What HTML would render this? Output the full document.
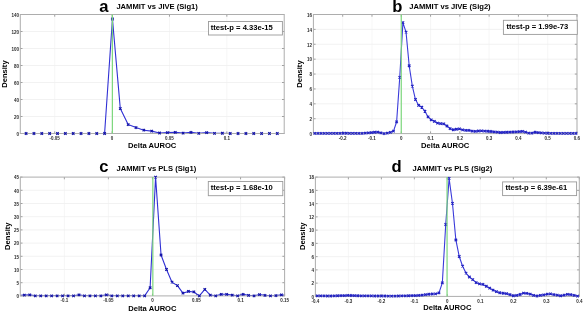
<!DOCTYPE html>
<html><head><meta charset="utf-8"><style>
html,body{margin:0;padding:0;background:#fff;}
body{width:584px;height:314px;overflow:hidden;}
svg{display:block;will-change:transform;}
text{font-family:"Liberation Sans", sans-serif;}
.tk{font-size:4.5px;fill:#2a2a2a;font-weight:bold;}
.lab{font-size:7.6px;font-weight:bold;fill:#000;}
.big{font-size:16.6px;font-weight:bold;fill:#000;}
</style></head><body>
<svg width="584" height="314" viewBox="0 0 584 314">
<rect width="584" height="314" fill="#fff"/>
<path d="M54.72 14.5V133.5M112.09 14.5V133.5M169.46 14.5V133.5M226.83 14.5V133.5" stroke="#f4f4f4" stroke-width="0.8" fill="none"/>
<path d="M20.3 116.5H284.2M20.3 99.5H284.2M20.3 82.5H284.2M20.3 65.5H284.2M20.3 48.5H284.2M20.3 31.5H284.2" stroke="#efefef" stroke-width="0.8" fill="none"/>
<path d="M54.72 133.5v-2.2M54.72 14.5v2.2M112.09 133.5v-2.2M112.09 14.5v2.2M169.46 133.5v-2.2M169.46 14.5v2.2M226.83 133.5v-2.2M226.83 14.5v2.2M20.3 133.5h2.2M284.2 133.5h-2.2M20.3 116.5h2.2M284.2 116.5h-2.2M20.3 99.5h2.2M284.2 99.5h-2.2M20.3 82.5h2.2M284.2 82.5h-2.2M20.3 65.5h2.2M284.2 65.5h-2.2M20.3 48.5h2.2M284.2 48.5h-2.2M20.3 31.5h2.2M284.2 31.5h-2.2M20.3 14.5h2.2M284.2 14.5h-2.2" stroke="#8a8a8a" stroke-width="0.8" fill="none"/>
<text x="54.72" y="139.9" text-anchor="middle" class="tk">-0.05</text>
<text x="112.09" y="139.9" text-anchor="middle" class="tk">0</text>
<text x="169.46" y="139.9" text-anchor="middle" class="tk">0.05</text>
<text x="226.83" y="139.9" text-anchor="middle" class="tk">0.1</text>
<text x="19" y="135.8" text-anchor="end" class="tk">0</text>
<text x="19" y="118.8" text-anchor="end" class="tk">20</text>
<text x="19" y="101.8" text-anchor="end" class="tk">40</text>
<text x="19" y="84.8" text-anchor="end" class="tk">60</text>
<text x="19" y="67.8" text-anchor="end" class="tk">80</text>
<text x="19" y="50.8" text-anchor="end" class="tk">100</text>
<text x="19" y="33.8" text-anchor="end" class="tk">120</text>
<text x="19" y="16.8" text-anchor="end" class="tk">140</text>
<clipPath id="ca"><rect x="20.3" y="11.5" width="263.9" height="122"/></clipPath>
<path d="M18.25 133.5 L26.1 133.5 L33.95 133.5 L41.8 133.5 L49.65 133.5 L57.5 133.5 L65.35 133.5 L73.2 133.5 L81.05 133.5 L88.9 133.5 L96.75 133.5 L104.6 133.5 L112.45 19.01 L120.3 108.59 L128.15 124.58 L136 127.55 L143.85 130.19 L151.7 131.12 L159.55 132.99 L167.4 132.65 L175.25 132.4 L183.1 133.16 L190.95 132.4 L198.8 133.41 L206.65 132.65 L214.5 133.41 L222.35 133.25 L230.2 133.5 L238.05 133.5 L245.9 133.5 L253.75 133.5 L261.6 133.5 L269.45 133.5 L277.3 133.5 L285.15 133.5" stroke="#3030d4" stroke-width="1.1" fill="none" stroke-linejoin="round" clip-path="url(#ca)"/>
<rect x="20.3" y="14.5" width="263.9" height="119" fill="none" stroke="#adadad" stroke-width="1"/>
<path d="M24.85 132.25l2.5 2.5M24.85 134.75l2.5 -2.5M32.7 132.25l2.5 2.5M32.7 134.75l2.5 -2.5M40.55 132.25l2.5 2.5M40.55 134.75l2.5 -2.5M48.4 132.25l2.5 2.5M48.4 134.75l2.5 -2.5M56.25 132.25l2.5 2.5M56.25 134.75l2.5 -2.5M64.1 132.25l2.5 2.5M64.1 134.75l2.5 -2.5M71.95 132.25l2.5 2.5M71.95 134.75l2.5 -2.5M79.8 132.25l2.5 2.5M79.8 134.75l2.5 -2.5M87.65 132.25l2.5 2.5M87.65 134.75l2.5 -2.5M95.5 132.25l2.5 2.5M95.5 134.75l2.5 -2.5M103.35 132.25l2.5 2.5M103.35 134.75l2.5 -2.5M111.2 17.76l2.5 2.5M111.2 20.26l2.5 -2.5M119.05 107.34l2.5 2.5M119.05 109.84l2.5 -2.5M126.9 123.33l2.5 2.5M126.9 125.83l2.5 -2.5M134.75 126.3l2.5 2.5M134.75 128.8l2.5 -2.5M142.6 128.94l2.5 2.5M142.6 131.44l2.5 -2.5M150.45 129.87l2.5 2.5M150.45 132.37l2.5 -2.5M158.3 131.74l2.5 2.5M158.3 134.24l2.5 -2.5M166.15 131.4l2.5 2.5M166.15 133.9l2.5 -2.5M174 131.15l2.5 2.5M174 133.65l2.5 -2.5M181.85 131.91l2.5 2.5M181.85 134.41l2.5 -2.5M189.7 131.15l2.5 2.5M189.7 133.65l2.5 -2.5M197.55 132.16l2.5 2.5M197.55 134.66l2.5 -2.5M205.4 131.4l2.5 2.5M205.4 133.9l2.5 -2.5M213.25 132.16l2.5 2.5M213.25 134.66l2.5 -2.5M221.1 132l2.5 2.5M221.1 134.5l2.5 -2.5M228.95 132.25l2.5 2.5M228.95 134.75l2.5 -2.5M236.8 132.25l2.5 2.5M236.8 134.75l2.5 -2.5M244.65 132.25l2.5 2.5M244.65 134.75l2.5 -2.5M252.5 132.25l2.5 2.5M252.5 134.75l2.5 -2.5M260.35 132.25l2.5 2.5M260.35 134.75l2.5 -2.5M268.2 132.25l2.5 2.5M268.2 134.75l2.5 -2.5M276.05 132.25l2.5 2.5M276.05 134.75l2.5 -2.5" stroke="#1212a6" stroke-width="1.15" fill="none"/>
<path d="M112.39 14.5V133.5" stroke="#7ed87e" stroke-width="1.2"/>
<text x="99.3" y="12.1" class="big">a</text>
<text x="116.4" y="9.2" class="lab">JAMMIT vs JIVE (Sig1)</text>
<rect x="208.5" y="21.5" width="73.9" height="13.5" fill="#fff" stroke="#9a9a9a" stroke-width="0.9"/>
<text x="210.8" y="30.1" class="lab">ttest-p = 4.33e-15</text>
<text transform="translate(6.7 74.1) rotate(-90)" text-anchor="middle" class="lab">Density</text>
<text x="152.2" y="147.9" text-anchor="middle" class="lab">Delta AUROC</text>
<path d="M342.69 14.5V133.6M371.98 14.5V133.6M401.27 14.5V133.6M430.56 14.5V133.6M459.84 14.5V133.6M489.13 14.5V133.6M518.42 14.5V133.6M547.71 14.5V133.6M577 14.5V133.6" stroke="#f4f4f4" stroke-width="0.8" fill="none"/>
<path d="M313.4 118.71H577M313.4 103.82H577M313.4 88.94H577M313.4 74.05H577M313.4 59.16H577M313.4 44.28H577M313.4 29.39H577" stroke="#efefef" stroke-width="0.8" fill="none"/>
<path d="M342.69 133.6v-2.2M342.69 14.5v2.2M371.98 133.6v-2.2M371.98 14.5v2.2M401.27 133.6v-2.2M401.27 14.5v2.2M430.56 133.6v-2.2M430.56 14.5v2.2M459.84 133.6v-2.2M459.84 14.5v2.2M489.13 133.6v-2.2M489.13 14.5v2.2M518.42 133.6v-2.2M518.42 14.5v2.2M547.71 133.6v-2.2M547.71 14.5v2.2M577 133.6v-2.2M577 14.5v2.2M313.4 133.6h2.2M577 133.6h-2.2M313.4 118.71h2.2M577 118.71h-2.2M313.4 103.82h2.2M577 103.82h-2.2M313.4 88.94h2.2M577 88.94h-2.2M313.4 74.05h2.2M577 74.05h-2.2M313.4 59.16h2.2M577 59.16h-2.2M313.4 44.28h2.2M577 44.28h-2.2M313.4 29.39h2.2M577 29.39h-2.2M313.4 14.5h2.2M577 14.5h-2.2" stroke="#8a8a8a" stroke-width="0.8" fill="none"/>
<text x="342.69" y="140" text-anchor="middle" class="tk">-0.2</text>
<text x="371.98" y="140" text-anchor="middle" class="tk">-0.1</text>
<text x="401.27" y="140" text-anchor="middle" class="tk">0</text>
<text x="430.56" y="140" text-anchor="middle" class="tk">0.1</text>
<text x="459.84" y="140" text-anchor="middle" class="tk">0.2</text>
<text x="489.13" y="140" text-anchor="middle" class="tk">0.3</text>
<text x="518.42" y="140" text-anchor="middle" class="tk">0.4</text>
<text x="547.71" y="140" text-anchor="middle" class="tk">0.5</text>
<text x="577" y="140" text-anchor="middle" class="tk">0.6</text>
<text x="312.1" y="135.9" text-anchor="end" class="tk">0</text>
<text x="312.1" y="121.01" text-anchor="end" class="tk">2</text>
<text x="312.1" y="106.12" text-anchor="end" class="tk">4</text>
<text x="312.1" y="91.24" text-anchor="end" class="tk">6</text>
<text x="312.1" y="76.35" text-anchor="end" class="tk">8</text>
<text x="312.1" y="61.46" text-anchor="end" class="tk">10</text>
<text x="312.1" y="46.58" text-anchor="end" class="tk">12</text>
<text x="312.1" y="31.69" text-anchor="end" class="tk">14</text>
<text x="312.1" y="16.8" text-anchor="end" class="tk">16</text>
<clipPath id="cb"><rect x="313.4" y="11.5" width="263.6" height="122.1"/></clipPath>
<path d="M311.67 133.23 L314.81 133.45 L317.96 133.45 L321.1 133.45 L324.25 133.45 L327.4 133.45 L330.54 133.44 L333.69 133.4 L336.83 133.35 L339.98 133.3 L343.13 133.26 L346.27 133.25 L349.42 133.29 L352.56 133.34 L355.71 133.39 L358.86 133.43 L362 133.3 L365.15 133.07 L368.29 132.83 L371.44 132.55 L374.59 132.22 L377.73 132.13 L380.88 132.87 L384.02 133.6 L387.17 133.09 L390.32 132.45 L393.46 131.11 L396.61 121.96 L399.75 77.33 L402.9 22.69 L406.05 32.2 L409.19 65.78 L412.34 86.12 L415.48 99.51 L418.63 105.3 L421.78 107.26 L424.92 111.28 L428.07 116.94 L431.21 119.79 L434.36 121.29 L437.51 123.06 L440.65 123.54 L443.8 123.88 L446.94 126.01 L450.09 128.65 L453.24 129.74 L456.38 129.28 L459.53 128.91 L462.67 129.83 L465.82 130.3 L468.97 130.35 L472.11 131.06 L475.26 131.35 L478.4 130.98 L481.55 130.87 L484.7 131.05 L487.84 131.24 L490.99 131.48 L494.13 131.83 L497.28 132.18 L500.43 132.47 L503.57 132.35 L506.72 132.23 L509.86 132.12 L513.01 131.97 L516.16 131.82 L519.3 131.64 L522.45 131.41 L525.59 132.19 L528.74 133.2 L531.89 133.09 L535.03 132.26 L538.18 132.57 L541.32 132.87 L544.47 133.18 L547.62 133.27 L550.76 133.31 L553.91 133.36 L557.05 133.41 L560.2 133.45 L563.35 133.45 L566.49 133.45 L569.64 133.45 L572.78 133.45 L575.93 133.45 L579.08 133.6" stroke="#3a3ada" stroke-width="1.1" fill="none" stroke-linejoin="round" clip-path="url(#cb)"/>
<rect x="313.4" y="14.5" width="263.6" height="119.1" fill="none" stroke="#adadad" stroke-width="1"/>
<path d="M313.56 132.2l2.5 2.5M313.56 134.7l2.5 -2.5M316.71 132.2l2.5 2.5M316.71 134.7l2.5 -2.5M319.85 132.2l2.5 2.5M319.85 134.7l2.5 -2.5M323 132.2l2.5 2.5M323 134.7l2.5 -2.5M326.15 132.2l2.5 2.5M326.15 134.7l2.5 -2.5M329.29 132.19l2.5 2.5M329.29 134.69l2.5 -2.5M332.44 132.15l2.5 2.5M332.44 134.65l2.5 -2.5M335.58 132.1l2.5 2.5M335.58 134.6l2.5 -2.5M338.73 132.05l2.5 2.5M338.73 134.55l2.5 -2.5M341.88 132.01l2.5 2.5M341.88 134.51l2.5 -2.5M345.02 132l2.5 2.5M345.02 134.5l2.5 -2.5M348.17 132.04l2.5 2.5M348.17 134.54l2.5 -2.5M351.31 132.09l2.5 2.5M351.31 134.59l2.5 -2.5M354.46 132.14l2.5 2.5M354.46 134.64l2.5 -2.5M357.61 132.18l2.5 2.5M357.61 134.68l2.5 -2.5M360.75 132.05l2.5 2.5M360.75 134.55l2.5 -2.5M363.9 131.82l2.5 2.5M363.9 134.32l2.5 -2.5M367.04 131.58l2.5 2.5M367.04 134.08l2.5 -2.5M370.19 131.3l2.5 2.5M370.19 133.8l2.5 -2.5M373.34 130.97l2.5 2.5M373.34 133.47l2.5 -2.5M376.48 130.88l2.5 2.5M376.48 133.38l2.5 -2.5M379.63 131.62l2.5 2.5M379.63 134.12l2.5 -2.5M382.77 132.35l2.5 2.5M382.77 134.85l2.5 -2.5M385.92 131.84l2.5 2.5M385.92 134.34l2.5 -2.5M389.07 131.2l2.5 2.5M389.07 133.7l2.5 -2.5M392.21 129.86l2.5 2.5M392.21 132.36l2.5 -2.5M395.36 120.71l2.5 2.5M395.36 123.21l2.5 -2.5M398.5 76.08l2.5 2.5M398.5 78.58l2.5 -2.5M401.65 21.44l2.5 2.5M401.65 23.94l2.5 -2.5M404.8 30.95l2.5 2.5M404.8 33.45l2.5 -2.5M407.94 64.53l2.5 2.5M407.94 67.03l2.5 -2.5M411.09 84.87l2.5 2.5M411.09 87.37l2.5 -2.5M414.23 98.26l2.5 2.5M414.23 100.76l2.5 -2.5M417.38 104.05l2.5 2.5M417.38 106.55l2.5 -2.5M420.53 106.01l2.5 2.5M420.53 108.51l2.5 -2.5M423.67 110.03l2.5 2.5M423.67 112.53l2.5 -2.5M426.82 115.69l2.5 2.5M426.82 118.19l2.5 -2.5M429.96 118.54l2.5 2.5M429.96 121.04l2.5 -2.5M433.11 120.04l2.5 2.5M433.11 122.54l2.5 -2.5M436.26 121.81l2.5 2.5M436.26 124.31l2.5 -2.5M439.4 122.29l2.5 2.5M439.4 124.79l2.5 -2.5M442.55 122.63l2.5 2.5M442.55 125.13l2.5 -2.5M445.69 124.76l2.5 2.5M445.69 127.26l2.5 -2.5M448.84 127.4l2.5 2.5M448.84 129.9l2.5 -2.5M451.99 128.49l2.5 2.5M451.99 130.99l2.5 -2.5M455.13 128.03l2.5 2.5M455.13 130.53l2.5 -2.5M458.28 127.66l2.5 2.5M458.28 130.16l2.5 -2.5M461.42 128.58l2.5 2.5M461.42 131.08l2.5 -2.5M464.57 129.05l2.5 2.5M464.57 131.55l2.5 -2.5M467.72 129.1l2.5 2.5M467.72 131.6l2.5 -2.5M470.86 129.81l2.5 2.5M470.86 132.31l2.5 -2.5M474.01 130.1l2.5 2.5M474.01 132.6l2.5 -2.5M477.15 129.73l2.5 2.5M477.15 132.23l2.5 -2.5M480.3 129.62l2.5 2.5M480.3 132.12l2.5 -2.5M483.45 129.8l2.5 2.5M483.45 132.3l2.5 -2.5M486.59 129.99l2.5 2.5M486.59 132.49l2.5 -2.5M489.74 130.23l2.5 2.5M489.74 132.73l2.5 -2.5M492.88 130.58l2.5 2.5M492.88 133.08l2.5 -2.5M496.03 130.93l2.5 2.5M496.03 133.43l2.5 -2.5M499.18 131.22l2.5 2.5M499.18 133.72l2.5 -2.5M502.32 131.1l2.5 2.5M502.32 133.6l2.5 -2.5M505.47 130.98l2.5 2.5M505.47 133.48l2.5 -2.5M508.61 130.87l2.5 2.5M508.61 133.37l2.5 -2.5M511.76 130.72l2.5 2.5M511.76 133.22l2.5 -2.5M514.91 130.57l2.5 2.5M514.91 133.07l2.5 -2.5M518.05 130.39l2.5 2.5M518.05 132.89l2.5 -2.5M521.2 130.16l2.5 2.5M521.2 132.66l2.5 -2.5M524.34 130.94l2.5 2.5M524.34 133.44l2.5 -2.5M527.49 131.95l2.5 2.5M527.49 134.45l2.5 -2.5M530.64 131.84l2.5 2.5M530.64 134.34l2.5 -2.5M533.78 131.01l2.5 2.5M533.78 133.51l2.5 -2.5M536.93 131.32l2.5 2.5M536.93 133.82l2.5 -2.5M540.07 131.62l2.5 2.5M540.07 134.12l2.5 -2.5M543.22 131.93l2.5 2.5M543.22 134.43l2.5 -2.5M546.37 132.02l2.5 2.5M546.37 134.52l2.5 -2.5M549.51 132.06l2.5 2.5M549.51 134.56l2.5 -2.5M552.66 132.11l2.5 2.5M552.66 134.61l2.5 -2.5M555.8 132.16l2.5 2.5M555.8 134.66l2.5 -2.5M558.95 132.2l2.5 2.5M558.95 134.7l2.5 -2.5M562.1 132.2l2.5 2.5M562.1 134.7l2.5 -2.5M565.24 132.2l2.5 2.5M565.24 134.7l2.5 -2.5M568.39 132.2l2.5 2.5M568.39 134.7l2.5 -2.5M571.53 132.2l2.5 2.5M571.53 134.7l2.5 -2.5M574.68 132.2l2.5 2.5M574.68 134.7l2.5 -2.5" stroke="#2020c0" stroke-width="1.15" fill="none"/>
<path d="M401.27 14.5V133.6" stroke="#7ed87e" stroke-width="1.2"/>
<text x="392.2" y="12.2" class="big">b</text>
<text x="409.2" y="9" class="lab">JAMMIT vs JIVE (Sig2)</text>
<rect x="503.4" y="20.3" width="73.9" height="14.1" fill="#fff" stroke="#9a9a9a" stroke-width="0.9"/>
<text x="506.4" y="28.9" class="lab">ttest-p = 1.99e-73</text>
<text transform="translate(302.3 74.1) rotate(-90)" text-anchor="middle" class="lab">Density</text>
<text x="445.2" y="147.9" text-anchor="middle" class="lab">Delta AUROC</text>
<path d="M64.35 177.1V295.9M108.4 177.1V295.9M152.45 177.1V295.9M196.5 177.1V295.9M240.55 177.1V295.9M284.6 177.1V295.9" stroke="#f4f4f4" stroke-width="0.8" fill="none"/>
<path d="M20.3 282.7H284.6M20.3 269.5H284.6M20.3 256.3H284.6M20.3 243.1H284.6M20.3 229.9H284.6M20.3 216.7H284.6M20.3 203.5H284.6M20.3 190.3H284.6" stroke="#efefef" stroke-width="0.8" fill="none"/>
<path d="M64.35 295.9v-2.2M64.35 177.1v2.2M108.4 295.9v-2.2M108.4 177.1v2.2M152.45 295.9v-2.2M152.45 177.1v2.2M196.5 295.9v-2.2M196.5 177.1v2.2M240.55 295.9v-2.2M240.55 177.1v2.2M284.6 295.9v-2.2M284.6 177.1v2.2M20.3 295.9h2.2M284.6 295.9h-2.2M20.3 282.7h2.2M284.6 282.7h-2.2M20.3 269.5h2.2M284.6 269.5h-2.2M20.3 256.3h2.2M284.6 256.3h-2.2M20.3 243.1h2.2M284.6 243.1h-2.2M20.3 229.9h2.2M284.6 229.9h-2.2M20.3 216.7h2.2M284.6 216.7h-2.2M20.3 203.5h2.2M284.6 203.5h-2.2M20.3 190.3h2.2M284.6 190.3h-2.2M20.3 177.1h2.2M284.6 177.1h-2.2" stroke="#8a8a8a" stroke-width="0.8" fill="none"/>
<text x="64.35" y="302.3" text-anchor="middle" class="tk">-0.1</text>
<text x="108.4" y="302.3" text-anchor="middle" class="tk">-0.05</text>
<text x="152.45" y="302.3" text-anchor="middle" class="tk">0</text>
<text x="196.5" y="302.3" text-anchor="middle" class="tk">0.05</text>
<text x="240.55" y="302.3" text-anchor="middle" class="tk">0.1</text>
<text x="284.6" y="302.3" text-anchor="middle" class="tk">0.15</text>
<text x="19" y="298.2" text-anchor="end" class="tk">0</text>
<text x="19" y="285" text-anchor="end" class="tk">5</text>
<text x="19" y="271.8" text-anchor="end" class="tk">10</text>
<text x="19" y="258.6" text-anchor="end" class="tk">15</text>
<text x="19" y="245.4" text-anchor="end" class="tk">20</text>
<text x="19" y="232.2" text-anchor="end" class="tk">25</text>
<text x="19" y="219" text-anchor="end" class="tk">30</text>
<text x="19" y="205.8" text-anchor="end" class="tk">35</text>
<text x="19" y="192.6" text-anchor="end" class="tk">40</text>
<text x="19" y="179.4" text-anchor="end" class="tk">45</text>
<clipPath id="cc"><rect x="20.3" y="174.1" width="264.3" height="121.8"/></clipPath>
<path d="M18.83 295.37 L24.3 295.11 L29.77 294.84 L35.24 295.9 L40.71 295.9 L46.18 295.9 L51.65 295.9 L57.12 295.9 L62.59 295.9 L68.06 295.9 L73.53 295.9 L79 294.84 L84.47 295.9 L89.94 295.9 L95.41 295.9 L100.88 295.9 L106.35 294.84 L111.82 295.9 L117.29 295.9 L122.76 295.9 L128.23 295.9 L133.7 295.9 L139.17 295.9 L144.64 295.9 L150.11 287.72 L155.58 177.1 L161.05 254.98 L166.52 269.5 L171.99 282.17 L177.46 285.6 L182.93 293.13 L188.4 291.41 L193.87 291.94 L199.34 295.9 L204.81 289.3 L210.28 295.11 L215.75 295.9 L221.22 294.32 L226.69 294.32 L232.16 295.11 L237.63 295.9 L243.1 294.32 L248.57 295.37 L254.04 295.9 L259.51 294.58 L264.98 295.37 L270.45 295.9 L275.92 295.64 L281.39 294.84 L286.86 295.37" stroke="#3030d4" stroke-width="1.1" fill="none" stroke-linejoin="round" clip-path="url(#cc)"/>
<rect x="20.3" y="177.1" width="264.3" height="118.8" fill="none" stroke="#adadad" stroke-width="1"/>
<path d="M23.05 293.86l2.5 2.5M23.05 296.36l2.5 -2.5M28.52 293.59l2.5 2.5M28.52 296.09l2.5 -2.5M33.99 294.65l2.5 2.5M33.99 297.15l2.5 -2.5M39.46 294.65l2.5 2.5M39.46 297.15l2.5 -2.5M44.93 294.65l2.5 2.5M44.93 297.15l2.5 -2.5M50.4 294.65l2.5 2.5M50.4 297.15l2.5 -2.5M55.87 294.65l2.5 2.5M55.87 297.15l2.5 -2.5M61.34 294.65l2.5 2.5M61.34 297.15l2.5 -2.5M66.81 294.65l2.5 2.5M66.81 297.15l2.5 -2.5M72.28 294.65l2.5 2.5M72.28 297.15l2.5 -2.5M77.75 293.59l2.5 2.5M77.75 296.09l2.5 -2.5M83.22 294.65l2.5 2.5M83.22 297.15l2.5 -2.5M88.69 294.65l2.5 2.5M88.69 297.15l2.5 -2.5M94.16 294.65l2.5 2.5M94.16 297.15l2.5 -2.5M99.63 294.65l2.5 2.5M99.63 297.15l2.5 -2.5M105.1 293.59l2.5 2.5M105.1 296.09l2.5 -2.5M110.57 294.65l2.5 2.5M110.57 297.15l2.5 -2.5M116.04 294.65l2.5 2.5M116.04 297.15l2.5 -2.5M121.51 294.65l2.5 2.5M121.51 297.15l2.5 -2.5M126.98 294.65l2.5 2.5M126.98 297.15l2.5 -2.5M132.45 294.65l2.5 2.5M132.45 297.15l2.5 -2.5M137.92 294.65l2.5 2.5M137.92 297.15l2.5 -2.5M143.39 294.65l2.5 2.5M143.39 297.15l2.5 -2.5M148.86 286.47l2.5 2.5M148.86 288.97l2.5 -2.5M154.33 175.85l2.5 2.5M154.33 178.35l2.5 -2.5M159.8 253.73l2.5 2.5M159.8 256.23l2.5 -2.5M165.27 268.25l2.5 2.5M165.27 270.75l2.5 -2.5M170.74 280.92l2.5 2.5M170.74 283.42l2.5 -2.5M176.21 284.35l2.5 2.5M176.21 286.85l2.5 -2.5M181.68 291.88l2.5 2.5M181.68 294.38l2.5 -2.5M187.15 290.16l2.5 2.5M187.15 292.66l2.5 -2.5M192.62 290.69l2.5 2.5M192.62 293.19l2.5 -2.5M198.09 294.65l2.5 2.5M198.09 297.15l2.5 -2.5M203.56 288.05l2.5 2.5M203.56 290.55l2.5 -2.5M209.03 293.86l2.5 2.5M209.03 296.36l2.5 -2.5M214.5 294.65l2.5 2.5M214.5 297.15l2.5 -2.5M219.97 293.07l2.5 2.5M219.97 295.57l2.5 -2.5M225.44 293.07l2.5 2.5M225.44 295.57l2.5 -2.5M230.91 293.86l2.5 2.5M230.91 296.36l2.5 -2.5M236.38 294.65l2.5 2.5M236.38 297.15l2.5 -2.5M241.85 293.07l2.5 2.5M241.85 295.57l2.5 -2.5M247.32 294.12l2.5 2.5M247.32 296.62l2.5 -2.5M252.79 294.65l2.5 2.5M252.79 297.15l2.5 -2.5M258.26 293.33l2.5 2.5M258.26 295.83l2.5 -2.5M263.73 294.12l2.5 2.5M263.73 296.62l2.5 -2.5M269.2 294.65l2.5 2.5M269.2 297.15l2.5 -2.5M274.67 294.39l2.5 2.5M274.67 296.89l2.5 -2.5M280.14 293.59l2.5 2.5M280.14 296.09l2.5 -2.5" stroke="#1212a6" stroke-width="1.15" fill="none"/>
<path d="M152.85 177.1V295.9" stroke="#7ed87e" stroke-width="1.2"/>
<text x="99.3" y="172.4" class="big">c</text>
<text x="116.5" y="171.1" class="lab">JAMMIT vs PLS (Sig1)</text>
<rect x="208.3" y="181.5" width="74.5" height="14.2" fill="#fff" stroke="#9a9a9a" stroke-width="0.9"/>
<text x="210.8" y="190.2" class="lab">ttest-p = 1.68e-10</text>
<text transform="translate(9.5 236.2) rotate(-90)" text-anchor="middle" class="lab">Density</text>
<text x="152.4" y="310.6" text-anchor="middle" class="lab">Delta AUROC</text>
<path d="M315.4 177.1V296.4M348.39 177.1V296.4M381.38 177.1V296.4M414.36 177.1V296.4M447.35 177.1V296.4M480.34 177.1V296.4M513.33 177.1V296.4M546.31 177.1V296.4M579.3 177.1V296.4" stroke="#f4f4f4" stroke-width="0.8" fill="none"/>
<path d="M315.4 283.14H579.3M315.4 269.89H579.3M315.4 256.63H579.3M315.4 243.38H579.3M315.4 230.12H579.3M315.4 216.87H579.3M315.4 203.61H579.3M315.4 190.36H579.3" stroke="#efefef" stroke-width="0.8" fill="none"/>
<path d="M315.4 296.4v-2.2M315.4 177.1v2.2M348.39 296.4v-2.2M348.39 177.1v2.2M381.38 296.4v-2.2M381.38 177.1v2.2M414.36 296.4v-2.2M414.36 177.1v2.2M447.35 296.4v-2.2M447.35 177.1v2.2M480.34 296.4v-2.2M480.34 177.1v2.2M513.33 296.4v-2.2M513.33 177.1v2.2M546.31 296.4v-2.2M546.31 177.1v2.2M579.3 296.4v-2.2M579.3 177.1v2.2M315.4 296.4h2.2M579.3 296.4h-2.2M315.4 283.14h2.2M579.3 283.14h-2.2M315.4 269.89h2.2M579.3 269.89h-2.2M315.4 256.63h2.2M579.3 256.63h-2.2M315.4 243.38h2.2M579.3 243.38h-2.2M315.4 230.12h2.2M579.3 230.12h-2.2M315.4 216.87h2.2M579.3 216.87h-2.2M315.4 203.61h2.2M579.3 203.61h-2.2M315.4 190.36h2.2M579.3 190.36h-2.2M315.4 177.1h2.2M579.3 177.1h-2.2" stroke="#8a8a8a" stroke-width="0.8" fill="none"/>
<text x="315.4" y="302.8" text-anchor="middle" class="tk">-0.4</text>
<text x="348.39" y="302.8" text-anchor="middle" class="tk">-0.3</text>
<text x="381.38" y="302.8" text-anchor="middle" class="tk">-0.2</text>
<text x="414.36" y="302.8" text-anchor="middle" class="tk">-0.1</text>
<text x="447.35" y="302.8" text-anchor="middle" class="tk">0</text>
<text x="480.34" y="302.8" text-anchor="middle" class="tk">0.1</text>
<text x="513.33" y="302.8" text-anchor="middle" class="tk">0.2</text>
<text x="546.31" y="302.8" text-anchor="middle" class="tk">0.3</text>
<text x="579.3" y="302.8" text-anchor="middle" class="tk">0.4</text>
<text x="314.1" y="298.7" text-anchor="end" class="tk">0</text>
<text x="314.1" y="285.44" text-anchor="end" class="tk">2</text>
<text x="314.1" y="272.19" text-anchor="end" class="tk">4</text>
<text x="314.1" y="258.93" text-anchor="end" class="tk">6</text>
<text x="314.1" y="245.68" text-anchor="end" class="tk">8</text>
<text x="314.1" y="232.42" text-anchor="end" class="tk">10</text>
<text x="314.1" y="219.17" text-anchor="end" class="tk">12</text>
<text x="314.1" y="205.91" text-anchor="end" class="tk">14</text>
<text x="314.1" y="192.66" text-anchor="end" class="tk">16</text>
<text x="314.1" y="179.4" text-anchor="end" class="tk">18</text>
<clipPath id="cd"><rect x="315.4" y="174.1" width="263.9" height="122.3"/></clipPath>
<path d="M313.9 295.74 L317.28 295.89 L320.66 295.92 L324.04 295.95 L327.42 295.98 L330.8 295.98 L334.18 295.87 L337.56 295.76 L340.94 295.66 L344.32 295.55 L347.7 295.45 L351.08 295.49 L354.46 295.64 L357.84 295.78 L361.22 295.88 L364.6 295.9 L367.98 295.92 L371.36 295.95 L374.74 295.97 L378.12 295.99 L381.5 296.01 L384.88 296.02 L388.26 296.04 L391.64 296.05 L395.02 296.07 L398.4 295.99 L401.78 295.92 L405.16 295.84 L408.54 295.77 L411.92 295.67 L415.3 295.56 L418.68 295.45 L422.06 295.13 L425.44 294.68 L428.82 294.24 L432.2 293.98 L435.58 293.82 L438.96 292.88 L442.34 282.8 L445.72 224.51 L449.1 178.43 L452.48 203.46 L455.86 239.97 L459.24 256.51 L462.62 266.21 L466 273.04 L469.38 277.02 L472.76 279.6 L476.14 282.61 L479.52 283.83 L482.9 284.45 L486.28 286.28 L489.66 288.2 L493.04 290.05 L496.42 291.64 L499.8 292.78 L503.18 293.27 L506.56 293.63 L509.94 294.63 L513.32 295.72 L516.7 295.38 L520.08 294.53 L523.46 293.17 L526.84 293.36 L530.22 294.1 L533.6 295.37 L536.98 295.99 L540.36 295.4 L543.74 294.8 L547.12 294.17 L550.5 293.95 L553.88 294.58 L557.26 295.19 L560.64 295.76 L564.02 295.17 L567.4 294.3 L570.78 294.66 L574.16 295.29 L577.54 296.04 L580.92 296.4" stroke="#3a3ada" stroke-width="1.1" fill="none" stroke-linejoin="round" clip-path="url(#cd)"/>
<rect x="315.4" y="177.1" width="263.9" height="119.3" fill="none" stroke="#adadad" stroke-width="1"/>
<path d="M316.03 294.64l2.5 2.5M316.03 297.14l2.5 -2.5M319.41 294.67l2.5 2.5M319.41 297.17l2.5 -2.5M322.79 294.7l2.5 2.5M322.79 297.2l2.5 -2.5M326.17 294.73l2.5 2.5M326.17 297.23l2.5 -2.5M329.55 294.73l2.5 2.5M329.55 297.23l2.5 -2.5M332.93 294.62l2.5 2.5M332.93 297.12l2.5 -2.5M336.31 294.51l2.5 2.5M336.31 297.01l2.5 -2.5M339.69 294.41l2.5 2.5M339.69 296.91l2.5 -2.5M343.07 294.3l2.5 2.5M343.07 296.8l2.5 -2.5M346.45 294.2l2.5 2.5M346.45 296.7l2.5 -2.5M349.83 294.24l2.5 2.5M349.83 296.74l2.5 -2.5M353.21 294.39l2.5 2.5M353.21 296.89l2.5 -2.5M356.59 294.53l2.5 2.5M356.59 297.03l2.5 -2.5M359.97 294.63l2.5 2.5M359.97 297.13l2.5 -2.5M363.35 294.65l2.5 2.5M363.35 297.15l2.5 -2.5M366.73 294.67l2.5 2.5M366.73 297.17l2.5 -2.5M370.11 294.7l2.5 2.5M370.11 297.2l2.5 -2.5M373.49 294.72l2.5 2.5M373.49 297.22l2.5 -2.5M376.87 294.74l2.5 2.5M376.87 297.24l2.5 -2.5M380.25 294.76l2.5 2.5M380.25 297.26l2.5 -2.5M383.63 294.77l2.5 2.5M383.63 297.27l2.5 -2.5M387.01 294.79l2.5 2.5M387.01 297.29l2.5 -2.5M390.39 294.8l2.5 2.5M390.39 297.3l2.5 -2.5M393.77 294.82l2.5 2.5M393.77 297.32l2.5 -2.5M397.15 294.74l2.5 2.5M397.15 297.24l2.5 -2.5M400.53 294.67l2.5 2.5M400.53 297.17l2.5 -2.5M403.91 294.59l2.5 2.5M403.91 297.09l2.5 -2.5M407.29 294.52l2.5 2.5M407.29 297.02l2.5 -2.5M410.67 294.42l2.5 2.5M410.67 296.92l2.5 -2.5M414.05 294.31l2.5 2.5M414.05 296.81l2.5 -2.5M417.43 294.2l2.5 2.5M417.43 296.7l2.5 -2.5M420.81 293.88l2.5 2.5M420.81 296.38l2.5 -2.5M424.19 293.43l2.5 2.5M424.19 295.93l2.5 -2.5M427.57 292.99l2.5 2.5M427.57 295.49l2.5 -2.5M430.95 292.73l2.5 2.5M430.95 295.23l2.5 -2.5M434.33 292.57l2.5 2.5M434.33 295.07l2.5 -2.5M437.71 291.63l2.5 2.5M437.71 294.13l2.5 -2.5M441.09 281.55l2.5 2.5M441.09 284.05l2.5 -2.5M444.47 223.26l2.5 2.5M444.47 225.76l2.5 -2.5M447.85 177.18l2.5 2.5M447.85 179.68l2.5 -2.5M451.23 202.21l2.5 2.5M451.23 204.71l2.5 -2.5M454.61 238.72l2.5 2.5M454.61 241.22l2.5 -2.5M457.99 255.26l2.5 2.5M457.99 257.76l2.5 -2.5M461.37 264.96l2.5 2.5M461.37 267.46l2.5 -2.5M464.75 271.79l2.5 2.5M464.75 274.29l2.5 -2.5M468.13 275.77l2.5 2.5M468.13 278.27l2.5 -2.5M471.51 278.35l2.5 2.5M471.51 280.85l2.5 -2.5M474.89 281.36l2.5 2.5M474.89 283.86l2.5 -2.5M478.27 282.58l2.5 2.5M478.27 285.08l2.5 -2.5M481.65 283.2l2.5 2.5M481.65 285.7l2.5 -2.5M485.03 285.03l2.5 2.5M485.03 287.53l2.5 -2.5M488.41 286.95l2.5 2.5M488.41 289.45l2.5 -2.5M491.79 288.8l2.5 2.5M491.79 291.3l2.5 -2.5M495.17 290.39l2.5 2.5M495.17 292.89l2.5 -2.5M498.55 291.53l2.5 2.5M498.55 294.03l2.5 -2.5M501.93 292.02l2.5 2.5M501.93 294.52l2.5 -2.5M505.31 292.38l2.5 2.5M505.31 294.88l2.5 -2.5M508.69 293.38l2.5 2.5M508.69 295.88l2.5 -2.5M512.07 294.47l2.5 2.5M512.07 296.97l2.5 -2.5M515.45 294.13l2.5 2.5M515.45 296.63l2.5 -2.5M518.83 293.28l2.5 2.5M518.83 295.78l2.5 -2.5M522.21 291.92l2.5 2.5M522.21 294.42l2.5 -2.5M525.59 292.11l2.5 2.5M525.59 294.61l2.5 -2.5M528.97 292.85l2.5 2.5M528.97 295.35l2.5 -2.5M532.35 294.12l2.5 2.5M532.35 296.62l2.5 -2.5M535.73 294.74l2.5 2.5M535.73 297.24l2.5 -2.5M539.11 294.15l2.5 2.5M539.11 296.65l2.5 -2.5M542.49 293.55l2.5 2.5M542.49 296.05l2.5 -2.5M545.87 292.92l2.5 2.5M545.87 295.42l2.5 -2.5M549.25 292.7l2.5 2.5M549.25 295.2l2.5 -2.5M552.63 293.33l2.5 2.5M552.63 295.83l2.5 -2.5M556.01 293.94l2.5 2.5M556.01 296.44l2.5 -2.5M559.39 294.51l2.5 2.5M559.39 297.01l2.5 -2.5M562.77 293.92l2.5 2.5M562.77 296.42l2.5 -2.5M566.15 293.05l2.5 2.5M566.15 295.55l2.5 -2.5M569.53 293.41l2.5 2.5M569.53 295.91l2.5 -2.5M572.91 294.04l2.5 2.5M572.91 296.54l2.5 -2.5M576.29 294.79l2.5 2.5M576.29 297.29l2.5 -2.5" stroke="#2020c0" stroke-width="1.15" fill="none"/>
<path d="M447.05 177.1V296.4" stroke="#7ed87e" stroke-width="1.2"/>
<text x="391.5" y="172.3" class="big">d</text>
<text x="412.5" y="171.3" class="lab">JAMMIT vs PLS (Sig2)</text>
<rect x="502.6" y="181.9" width="74" height="13.7" fill="#fff" stroke="#9a9a9a" stroke-width="0.9"/>
<text x="505.4" y="190.4" class="lab">ttest-p = 6.39e-61</text>
<text transform="translate(304.9 236.3) rotate(-90)" text-anchor="middle" class="lab">Density</text>
<text x="447.3" y="310.4" text-anchor="middle" class="lab">Delta AUROC</text>
</svg>
</body></html>
